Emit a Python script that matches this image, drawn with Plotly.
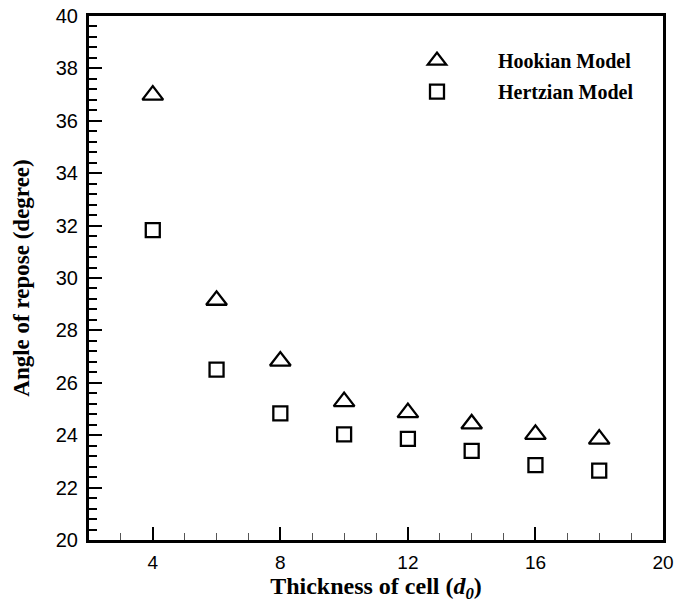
import plotly.graph_objects as go

# espessura da célula (d0) e ângulo de repouso
espessura = [4, 6, 8, 10, 12, 14, 16, 18]
hookian = [36.98, 29.15, 26.83, 25.28, 24.86, 24.43, 24.03, 23.85]
hertzian = [31.83, 26.5, 24.83, 24.03, 23.86, 23.4, 22.86, 22.65]

serif = "Liberation Serif"
sans = "Liberation Sans"

fig = go.Figure()
fig.add_trace(go.Scatter(
    x=espessura, y=hookian, mode="markers", name="Hookian Model",
    legendgroup="a",
    marker=dict(symbol="triangle-up-open", size=18, color="black",
                line=dict(width=2.3, color="black")),
))
fig.add_trace(go.Scatter(
    x=espessura, y=hertzian, mode="markers", name="Hertzian Model",
    legendgroup="b",
    marker=dict(symbol="square-open", size=14, color="black",
                line=dict(width=2.3, color="black")),
))

fig.update_layout(
    width=677, height=603,
    plot_bgcolor="white",
    paper_bgcolor="white",
    margin=dict(l=89, r=14, t=16, b=63),
    font=dict(family=sans, size=20, color="black"),
    legend=dict(
        x=0.50, y=0.952, xanchor="left", yanchor="top",
        bgcolor="rgba(0,0,0,0)",
        font=dict(family=serif, size=20, color="black", weight="bold"),
        itemwidth=112,
        tracegroupgap=2,
    ),
    showlegend=True,
)

fig.update_xaxes(
    range=[2, 20], tick0=0, dtick=4, automargin=False,
    showline=True, linecolor="black", linewidth=3, mirror=True,
    ticks="inside", ticklen=13, tickwidth=2, tickcolor="black",
    minor=dict(dtick=1, ticks="inside", ticklen=7, tickwidth=1, tickcolor="#555"),
    showgrid=False, zeroline=False,
    tickfont=dict(family=sans, size=19, color="black"),
    ticklabelstandoff=3,
    title=dict(text="Thickness of cell (<i>d</i><sub><i>0</i></sub>)",
               font=dict(family=serif, size=24, color="black", weight="bold"),
               standoff=18),
)
fig.update_yaxes(
    range=[20, 40], tick0=20, dtick=2, automargin=False,
    showline=True, linecolor="black", linewidth=3, mirror=True,
    ticks="inside", ticklen=13, tickwidth=2, tickcolor="black",
    minor=dict(dtick=0.4, ticks="inside", ticklen=8, tickwidth=1.5, tickcolor="black"),
    showgrid=False, zeroline=False,
    tickfont=dict(family=sans, size=20, color="black"),
    ticklabelstandoff=4,
    title=dict(text="Angle of repose (degree)",
               font=dict(family=serif, size=23, color="black", weight="bold"),
               standoff=20),
)

# sem margem do body, para a figura começar no canto da página
fig.write_html("out.html", config={"displayModeBar": False},
               post_script="document.body.style.margin='0';")
